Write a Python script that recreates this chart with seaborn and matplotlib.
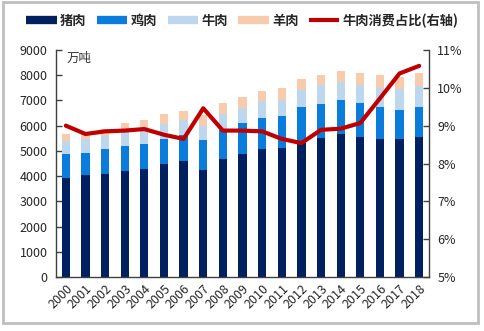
import numpy as np
import pandas as pd
import matplotlib
matplotlib.use("Agg")
import matplotlib.pyplot as plt
import seaborn as sns
from matplotlib.lines import Line2D
from matplotlib.patches import Rectangle
from matplotlib.ticker import FixedLocator, FuncFormatter

years = [str(y) for y in range(2000, 2019)]
# cumulative tops (万吨)
pork = [3935, 4028, 4067, 4187, 4266, 4492, 4584, 4240, 4664, 4870, 5088, 5115, 5300, 5512, 5685, 5552, 5486, 5460, 5552]
pork_chicken = [4863, 4929, 5062, 5208, 5287, 5486, 5645, 5420, 5818, 6109, 6321, 6401, 6733, 6852, 6998, 6892, 6733, 6613, 6733]
plus_beef = [5393, 5460, 5592, 5751, 5844, 6083, 6215, 5990, 6481, 6719, 6958, 7037, 7409, 7594, 7740, 7621, 7502, 7435, 7581]
plus_mutton = [5658, 5690, 5884, 6122, 6242, 6454, 6573, 6410, 6905, 7144, 7382, 7475, 7833, 8019, 8178, 8098, 8019, 7939, 8085]
beef_share = [9.00, 8.78, 8.85, 8.87, 8.91, 8.76, 8.65, 9.46, 8.87, 8.87, 8.85, 8.65, 8.54, 8.89, 8.92, 9.07, 9.72, 10.38, 10.58]

series_names = ["猪肉", "鸡肉", "牛肉", "羊肉", "牛肉消费占比(右轴)"]
colors = ["#002060", "#0A7DDC", "#BDD7EE", "#F8CBAD", "#C00000"]

sns.set_style("white")
plt.rcParams['font.family'] = ['Noto Sans CJK SC', 'DejaVu Sans']

fig = plt.figure(figsize=(4.85, 3.31), dpi=100)
ax = fig.add_axes([0.1155, 0.163, 0.769, 0.686])

df = pd.DataFrame({"year": years, "pork": pork, "pc": pork_chicken,
                   "pcb": plus_beef, "all": plus_mutton, "share": beef_share})

bw = 0.42
for col, c in [("all", colors[3]), ("pcb", colors[2]), ("pc", colors[1]), ("pork", colors[0])]:
    sns.barplot(data=df, x="year", y=col, color=c, width=bw, ax=ax,
                saturation=1, linewidth=0, errorbar=None)

ax.set_xlim(-0.5, 18.5)
ax.set_ylim(0, 9000)
ax.set_xlabel("")
ax.set_ylabel("")
ax.set_yticks(range(0, 9001, 1000))
ax.tick_params(axis='y', direction='in', length=4, width=1, labelsize=9, pad=6, color='#404040')
ax.set_xticks(range(len(years)))
ax.set_xticklabels(years, rotation=45, ha='right', rotation_mode='anchor', fontsize=9)
ax.tick_params(axis='x', which='major', length=0, pad=4)
ax.xaxis.set_minor_locator(FixedLocator(np.arange(-0.5, 19, 1)))
ax.tick_params(axis='x', which='minor', direction='out', length=4, width=1, color='#404040')
for s in ["top", "right"]:
    ax.spines[s].set_visible(False)
for s in ["left", "bottom"]:
    ax.spines[s].set_color('#404040')
    ax.spines[s].set_linewidth(1)

ax.text(0.05, 8650, "万吨", fontsize=9, color='#333333', va='center')

ax2 = ax.twinx()
sns.lineplot(x=np.arange(len(years)), y=df["share"], color=colors[4], lw=3, ax=ax2)
ax2.set_ylim(5, 11)
ax2.set_xlim(-0.5, 18.5)
ax2.set_ylabel("")
ax2.set_yticks(range(5, 12))
ax2.yaxis.set_major_formatter(FuncFormatter(lambda v, p: f"{int(v)}%"))
ax2.tick_params(axis='y', direction='in', length=4, width=1, labelsize=9, pad=6, color='#404040')
for s in ["top", "left", "bottom"]:
    ax2.spines[s].set_visible(False)
ax2.spines["right"].set_color('#404040')
ax2.spines["right"].set_linewidth(1)

handles = [Line2D([], [], color=colors[i], lw=6, solid_capstyle='butt') for i in range(4)]
handles.append(Line2D([], [], color=colors[4], lw=3, solid_capstyle='butt'))
fig.legend(handles, series_names, loc='center', bbox_to_anchor=(0.5, 0.937), ncol=5,
           frameon=False, handlelength=2.3, handletextpad=0.25, columnspacing=0.8,
           prop={'weight': 'bold', 'size': 9.5})

fig.patches.append(Rectangle((0.007, 0.025), 0.978, 0.968, transform=fig.transFigure,
                             fill=False, edgecolor='#BFBFBF', lw=2))

fig.savefig("out.png", dpi=100)
